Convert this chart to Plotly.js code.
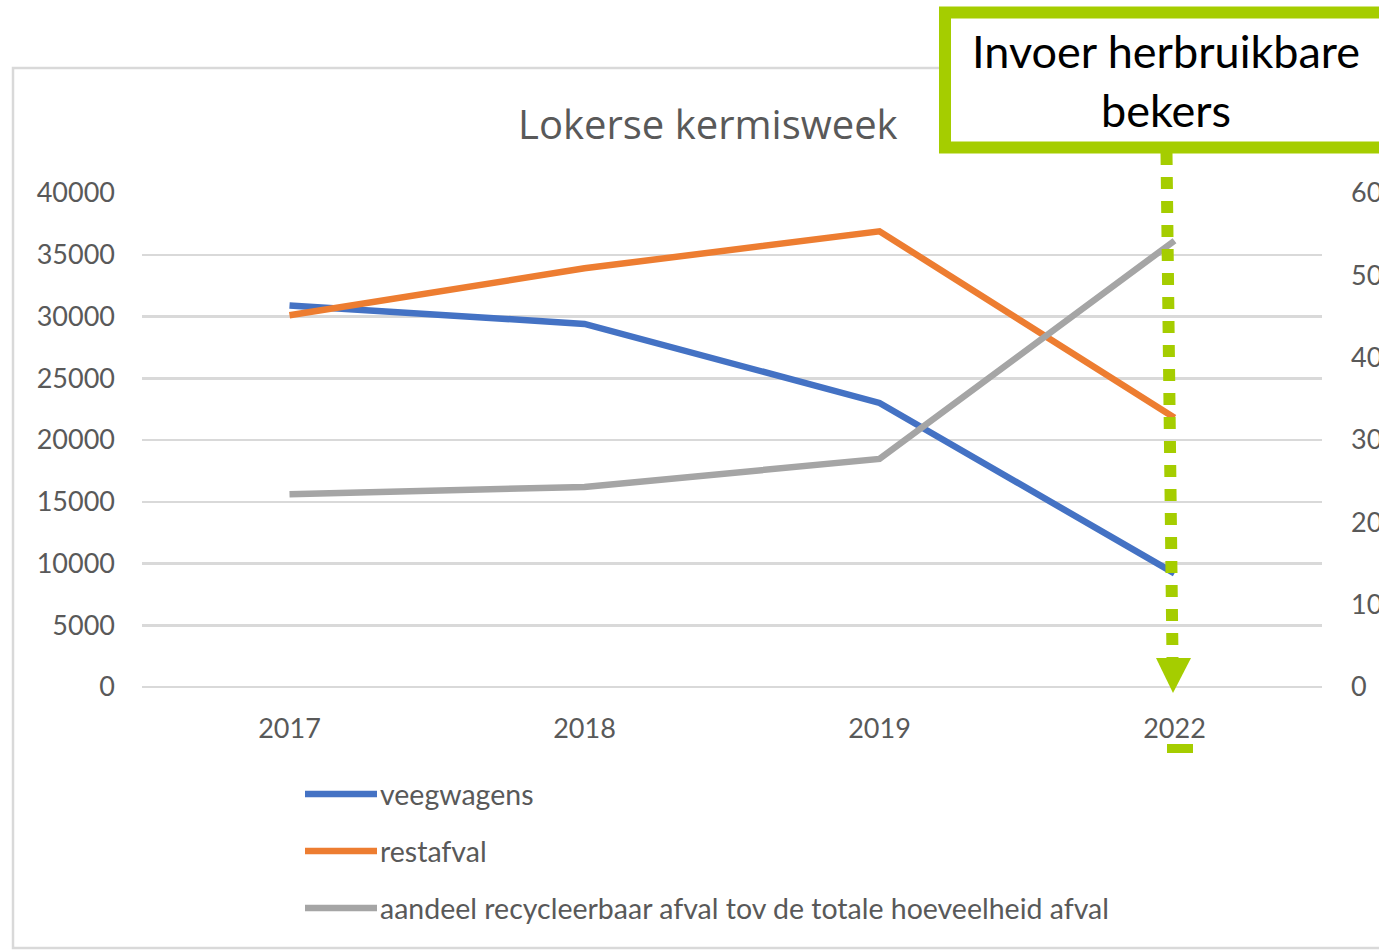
<!DOCTYPE html>
<html>
<head>
<meta charset="utf-8">
<script src="https://cdn.plot.ly/plotly-3.0.1.min.js"></script>
<style>
    html, body {margin: 0; padding: 0; overflow: hidden; background: #ffffff;}
    #chart {width: 1420px; height: 951px;}
</style>
</head>
<body>
<div id="chart"></div>
<script>
const years = ['2017', '2018', '2019', '2022'];
const veegwagens = [30900, 29400, 23000, 9200];
const restafval = [30100, 33900, 36900, 21800];
const aandeel = [23.4, 24.3, 27.7, 54.2];

const seriesNames = ['veegwagens', 'restafval', 'aandeel recycleerbaar afval tov de totale hoeveelheid afval'];
const seriesColors = ['#4472c4', '#ed7d31', '#a5a5a5'];

const FONT = 'Lato, "Open Sans", sans-serif';
const TITLE_FONT = '"Open Sans", Lato, sans-serif';
const TEXT_GREY = '#595959';
const GREEN = '#a5cd00';

// plot area in pixels, used to place decorations in paper units
const plotLeft = 142, plotRight = 1322, plotTop = 193, plotBottom = 687;
const px = x => (x - plotLeft) / (plotRight - plotLeft);
const py = y => (plotBottom - y) / (plotBottom - plotTop);

const traces = [
    {x: years, y: veegwagens, type: 'scatter', mode: 'lines', name: seriesNames[0],
        line: {color: seriesColors[0], width: 6.5}, yaxis: 'y'},
    {x: years, y: restafval, type: 'scatter', mode: 'lines', name: seriesNames[1],
        line: {color: seriesColors[1], width: 6.5}, yaxis: 'y'},
    {x: years, y: aandeel, type: 'scatter', mode: 'lines', name: seriesNames[2],
        line: {color: seriesColors[2], width: 6.5}, yaxis: 'y2'}
];

const shapes = [
    // chart frame
    {type: 'rect', xref: 'paper', yref: 'paper', x0: px(13), x1: px(1404), y0: py(68), y1: py(948),
        line: {color: '#d9d9d9', width: 2.5}, layer: 'below'},
    // dotted arrow
    {type: 'line', xref: 'paper', yref: 'paper', x0: px(1166.5), y0: py(153), x1: px(1172.5), y1: py(658),
        line: {color: GREEN, width: 12, dash: 'dot'}},
    {type: 'path', xref: 'paper', yref: 'paper', fillcolor: GREEN, line: {width: 0},
        path: `M ${px(1156)} ${py(658)} L ${px(1191)} ${py(658)} L ${px(1173)} ${py(693)} Z`},
    {type: 'rect', xref: 'paper', yref: 'paper', x0: px(1167), x1: px(1193), y0: py(744), y1: py(753),
        fillcolor: GREEN, line: {width: 0}},
    // callout box
    {type: 'rect', xref: 'paper', yref: 'paper', x0: px(945), x1: px(1440), y0: py(12.5), y1: py(147.5),
        fillcolor: '#ffffff', line: {color: GREEN, width: 12}}
];

const annotations = [
    {xref: 'paper', yref: 'paper', x: px(708), y: py(124), text: 'Lokerse kermisweek', showarrow: false,
        xanchor: 'center', yanchor: 'middle', font: {family: TITLE_FONT, size: 40, color: TEXT_GREY}},
    {xref: 'paper', yref: 'paper', x: px(1166), y: py(80), text: 'Invoer herbruikbare<br>bekers', showarrow: false,
        xanchor: 'center', yanchor: 'middle', align: 'center', font: {family: FONT, size: 45, color: '#000000'}}
];

// hand-drawn legend with long line samples
const legendY = [794, 851, 908];
seriesNames.forEach((name, i) => {
    shapes.push({type: 'line', xref: 'paper', yref: 'paper', x0: px(305), x1: px(377), y0: py(legendY[i]), y1: py(legendY[i]),
        line: {color: seriesColors[i], width: 6.5}});
    annotations.push({xref: 'paper', yref: 'paper', x: px(378), y: py(legendY[i]), text: name, showarrow: false,
        xanchor: 'left', yanchor: 'middle', font: {family: FONT, size: 28.5, color: TEXT_GREY}});
});

const layout = {
    width: 1420,
    height: 951,
    margin: {l: plotLeft, r: 1420 - plotRight, t: plotTop, b: 951 - plotBottom, pad: 0},
    paper_bgcolor: '#ffffff',
    plot_bgcolor: '#ffffff',
    showlegend: false,
    font: {family: FONT, color: TEXT_GREY},
    xaxis: {
        type: 'category',
        range: [-0.5, 3.5],
        showgrid: false,
        showline: false,
        ticks: '',
        ticklabelstandoff: 23,
        tickfont: {family: FONT, size: 27, color: TEXT_GREY}
    },
    yaxis: {
        range: [0, 40000],
        dtick: 5000,
        showgrid: true,
        gridcolor: '#d9d9d9',
        gridwidth: 2.5,
        zeroline: true,
        zerolinecolor: '#d9d9d9',
        zerolinewidth: 2.5,
        showline: false,
        ticks: '',
        ticklabelstandoff: 26,
        tickformat: 'd',
        tickfont: {family: FONT, size: 27, color: TEXT_GREY}
    },
    yaxis2: {
        overlaying: 'y',
        side: 'right',
        range: [0, 60],
        dtick: 10,
        showgrid: false,
        zeroline: false,
        showline: false,
        ticks: '',
        ticklabelstandoff: 28,
        tickfont: {family: FONT, size: 27, color: TEXT_GREY}
    },
    shapes: shapes,
    annotations: annotations
};

Plotly.newPlot('chart', traces, layout, {displayModeBar: false, staticPlot: true});
</script>
</body>
</html>
